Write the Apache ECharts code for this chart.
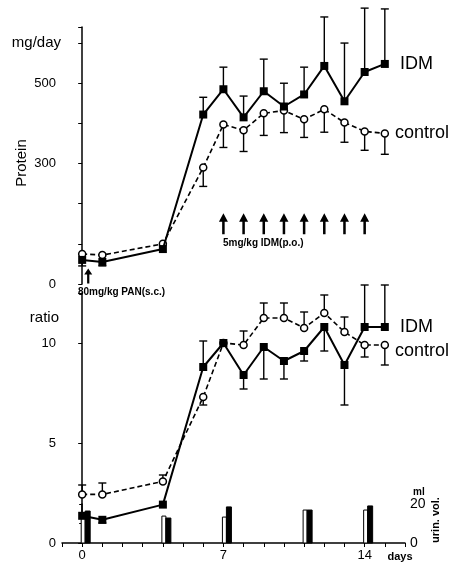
<!DOCTYPE html>
<html><head><meta charset="utf-8">
<script src="https://cdn.jsdelivr.net/npm/echarts@6/dist/echarts.min.js"></script>
<style>html,body{margin:0;padding:0;background:#fff}#c{width:460px;height:562px}</style>
</head><body><div id="c"></div>
<script>
// ---- data ----
const days = [0, 1, 4, 6, 7, 8, 9, 10, 11, 12, 13, 14, 15];
const proteinIDM = [60, 55, 87, 422, 485, 415, 480, 442, 472, 543, 455, 528, 548];
const proteinIDMErrEnd = [45, 45, null, 465, 540, 468, 560, 500, 540, 665, 600, 687, 685];
const proteinControl = [75, 72, 100, 290, 397, 383, 425, 432, 410, 435, 402, 380, 375];
const proteinControlErrEnd = [null, null, null, 243, 340, 330, 370, 377, 365, 378, 353, 333, 323];
const ratioIDM = [1.36, 1.16, 1.92, 8.8, 10.0, 8.4, 9.8, 9.1, 9.6, 10.8, 8.9, 10.8, 10.8];
const ratioIDMErrEnd = [null, 1.0, null, 10.1, null, 7.7, 8.2, 8.2, 9.1, 9.6, 6.9, 12.9, 12.9];
const ratioControl = [2.43, 2.43, 3.08, 7.3, 10.0, 9.9, 11.25, 11.25, 10.75, 11.5, 10.55, 9.9, 9.9];
const ratioControlErrEnd = [2.9, 3.0, 3.4, 6.9, null, 10.6, 12.0, 12.0, 11.55, 12.4, 11.3, 9.3, 8.9];
const urineDays = [0, 4, 7, 11, 14];
const urineControl = [12.8, 13.8, 13.3, 16.9, 16.9];
const urineIDM = [16.4, 12.8, 18.5, 16.9, 19.0];
const doseDays = [7, 8, 9, 10, 11, 12, 13, 14];
const panDay = [0.3];
const proteinTickLabels = [0, 300, 500];
const ratioTickLabels = [0, 5, 10];
const dayTickLabels = [0, 7, 14];

const FONT = 'Liberation Sans, Arial, sans-serif';
const pts = (vals) => days.map((d, i) => [d, vals[i]]);
const errs = (vals, ends) => days.map((d, i) => ends[i] == null ? null : [d, vals[i], ends[i]]).filter(Boolean);

function errRender(params, api) {
  const x = api.value(0), y = api.value(1), e = api.value(2);
  const p0 = api.coord([x, y]), p1 = api.coord([x, e]);
  const hw = 4, st = {stroke: '#000', lineWidth: 1.4};
  return {type: 'group', children: [
    {type: 'line', shape: {x1: p0[0], y1: p0[1], x2: p1[0], y2: p1[1]}, style: st},
    {type: 'line', shape: {x1: p1[0] - hw, y1: p1[1], x2: p1[0] + hw, y2: p1[1]}, style: st}
  ]};
}
function barRender(offset, width, filled) {
  return function (params, api) {
    const p0 = api.coord([api.value(0), 0]), p1 = api.coord([api.value(0), api.value(1)]);
    return {type: 'rect', shape: {x: p0[0] + offset, y: p1[1], width: width, height: p0[1] - p1[1]},
      style: {fill: filled ? '#000' : '#fff', stroke: '#000', lineWidth: 1}};
  };
}
const arrowPath = 'path://M5,0 L10,9 L6.4,9 L6.4,22 L3.6,22 L3.6,9 L0,9 Z';

const xBase = {type: 'value', min: -1, max: 16, interval: 1};
const option = {
  animation: false,
  backgroundColor: '#fff',
  textStyle: {fontFamily: FONT, color: '#000'},
  grid: [
    {left: 62, width: 343, top: 27, height: 257},
    {left: 62, width: 343, top: 293, height: 250},
    {left: 62, width: 343, top: 504, height: 39}
  ],
  xAxis: [
    Object.assign({gridIndex: 0, show: false}, xBase),
    Object.assign({gridIndex: 1, axisLine: {lineStyle: {color: '#000', width: 1.5}},
      axisTick: {length: 4, lineStyle: {color: '#000'}},
      axisLabel: {fontSize: 13, color: '#000', margin: 6, fontFamily: FONT,
        formatter: v => dayTickLabels.includes(v) ? String(v) : ''},
      splitLine: {show: false}}, xBase),
    Object.assign({gridIndex: 2, show: false}, xBase)
  ],
  yAxis: [
    {gridIndex: 0, type: 'value', min: 0, max: 640, interval: 100,
      axisLine: {show: true, lineStyle: {color: '#000', width: 1.5}},
      axisTick: {show: true, length: 4, lineStyle: {color: '#000'}},
      axisLabel: {fontSize: 13, color: '#000', margin: 6, fontFamily: FONT,
        formatter: v => proteinTickLabels.includes(v) ? String(v) : ''},
      splitLine: {show: false}},
    {gridIndex: 1, type: 'value', min: 0, max: 12.5, interval: 5,
      axisLine: {show: true, lineStyle: {color: '#000', width: 1.5}},
      axisTick: {show: true, length: 4, lineStyle: {color: '#000'}},
      axisLabel: {fontSize: 13, color: '#000', margin: 6, fontFamily: FONT,
        formatter: v => ratioTickLabels.includes(v) ? String(v) : ''},
      splitLine: {show: false}},
    {gridIndex: 2, type: 'value', position: 'right', min: 0, max: 20, interval: 10,
      axisLine: {show: true, lineStyle: {color: '#000', width: 1.5}},
      axisTick: {show: true, inside: true, length: 3, lineStyle: {color: '#000'}},
      axisLabel: {fontSize: 14, color: '#000', margin: 5, fontFamily: FONT,
        formatter: v => (v === 0 || v === 20) ? String(v) : ''},
      splitLine: {show: false}}
  ],
  series: [
    // top panel
    {type: 'custom', xAxisIndex: 0, yAxisIndex: 0, renderItem: errRender, data: errs(proteinControl, proteinControlErrEnd), z: 1, clip: false},
    {type: 'custom', xAxisIndex: 0, yAxisIndex: 0, renderItem: errRender, data: errs(proteinIDM, proteinIDMErrEnd), z: 1, clip: false},
    {name: 'control', type: 'line', xAxisIndex: 0, yAxisIndex: 0, data: pts(proteinControl), z: 3,
      lineStyle: {color: '#000', width: 1.6, type: [5, 3]}, symbol: 'circle', symbolSize: 7,
      itemStyle: {color: '#fff', borderColor: '#000', borderWidth: 1.5}},
    {name: 'IDM', type: 'line', xAxisIndex: 0, yAxisIndex: 0, data: pts(proteinIDM), z: 4,
      lineStyle: {color: '#000', width: 2}, symbol: 'rect', symbolSize: 8,
      itemStyle: {color: '#000', borderColor: '#000', borderWidth: 0}},
    {type: 'scatter', xAxisIndex: 0, yAxisIndex: 0, data: doseDays.map(d => [d, 150]),
      symbol: arrowPath, symbolSize: [9, 21], itemStyle: {color: '#000', opacity: 1}, z: 2},
    {type: 'scatter', xAxisIndex: 0, yAxisIndex: 0, data: panDay.map(d => [d, 20]),
      symbol: arrowPath, symbolSize: [8, 15], itemStyle: {color: '#000', opacity: 1}, z: 2},
    // bottom panel
    {type: 'custom', xAxisIndex: 2, yAxisIndex: 2, renderItem: barRender(-1, 4, false), data: urineDays.map((d, i) => [d, urineControl[i]]), z: 1},
    {type: 'custom', xAxisIndex: 2, yAxisIndex: 2, renderItem: barRender(3, 5, true), data: urineDays.map((d, i) => [d, urineIDM[i]]), z: 1},
    {type: 'custom', xAxisIndex: 1, yAxisIndex: 1, renderItem: errRender, data: errs(ratioControl, ratioControlErrEnd), z: 1, clip: false},
    {type: 'custom', xAxisIndex: 1, yAxisIndex: 1, renderItem: errRender, data: errs(ratioIDM, ratioIDMErrEnd), z: 1, clip: false},
    {name: 'control', type: 'line', xAxisIndex: 1, yAxisIndex: 1, data: pts(ratioControl), z: 3,
      lineStyle: {color: '#000', width: 1.6, type: [5, 3]}, symbol: 'circle', symbolSize: 7,
      itemStyle: {color: '#fff', borderColor: '#000', borderWidth: 1.5}},
    {name: 'IDM', type: 'line', xAxisIndex: 1, yAxisIndex: 1, data: pts(ratioIDM), z: 4,
      lineStyle: {color: '#000', width: 2}, symbol: 'rect', symbolSize: 8,
      itemStyle: {color: '#000', borderColor: '#000', borderWidth: 0}}
  ],
  graphic: [
    {type: 'text', x: 61, y: 43, style: {text: 'mg/day', font: '15px ' + FONT, fill: '#000', align: 'right', verticalAlign: 'middle'}},
    {type: 'text', x: 22, y: 163, rotation: Math.PI / 2, style: {text: 'Protein', font: '15px ' + FONT, fill: '#000', align: 'center', verticalAlign: 'middle'}},
    {type: 'text', x: 59, y: 318, style: {text: 'ratio', font: '15px ' + FONT, fill: '#000', align: 'right', verticalAlign: 'middle'}},
    {type: 'text', x: 400, y: 64, style: {text: 'IDM', font: '18px ' + FONT, fill: '#000', align: 'left', verticalAlign: 'middle'}},
    {type: 'text', x: 395, y: 133, style: {text: 'control', font: '18px ' + FONT, fill: '#000', align: 'left', verticalAlign: 'middle'}},
    {type: 'text', x: 400, y: 327, style: {text: 'IDM', font: '18px ' + FONT, fill: '#000', align: 'left', verticalAlign: 'middle'}},
    {type: 'text', x: 395, y: 351, style: {text: 'control', font: '18px ' + FONT, fill: '#000', align: 'left', verticalAlign: 'middle'}},
    {type: 'text', x: 223, y: 243, style: {text: '5mg/kg IDM(p.o.)', font: 'bold 10px ' + FONT, fill: '#000', align: 'left', verticalAlign: 'middle'}},
    {type: 'text', x: 78, y: 292, style: {text: '80mg/kg PAN(s.c.)', font: 'bold 10px ' + FONT, fill: '#000', align: 'left', verticalAlign: 'middle'}},
    {type: 'text', x: 413, y: 492, style: {text: 'ml', font: 'bold 10px ' + FONT, fill: '#000', align: 'left', verticalAlign: 'middle'}},
    {type: 'text', x: 436, y: 520, rotation: Math.PI / 2, style: {text: 'urin. vol.', font: 'bold 11px ' + FONT, fill: '#000', align: 'center', verticalAlign: 'middle'}},
    {type: 'text', x: 400, y: 557, style: {text: 'days', font: 'bold 11px ' + FONT, fill: '#000', align: 'center', verticalAlign: 'middle'}}
  ]
};
const chart = echarts.init(document.getElementById('c'), null, {renderer: 'canvas'});
chart.setOption(option);
</script></body></html>
